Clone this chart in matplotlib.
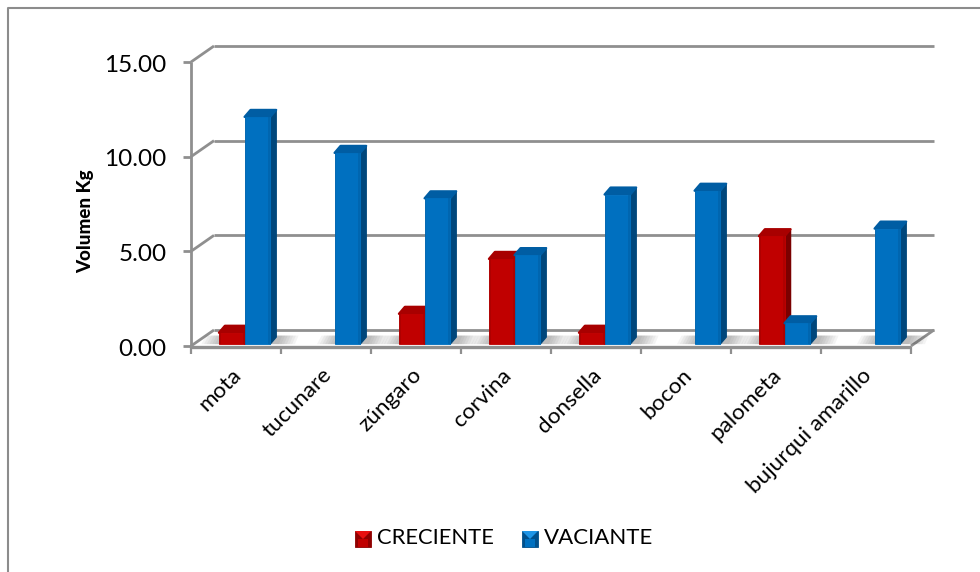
import matplotlib
matplotlib.use("Agg")
import matplotlib.pyplot as plt
from matplotlib.patches import Polygon, Rectangle

#---------------------------- datos ----------------------------#
especies = ["mota", "tucunare", "zúngaro", "corvina", "donsella", "bocon", "palometa", "bujurqui amarillo"]
creciente = [0.6, 0, 1.6, 4.5, 0.6, 0, 5.7, 0]
vaciante = [12.0, 10.1, 7.7, 4.7, 7.9, 8.1, 1.1, 6.1]
ticks_y = [0, 5, 10, 15]

W, H = 980, 572
plt.rcParams["font.family"] = ["Lato", "DejaVu Sans"]

fig = plt.figure(figsize=(W / 100, H / 100), dpi=100)
ax = fig.add_axes([191 / W, 1 - 346 / H, 720 / W, 284 / H])
ax.set_xlim(0, 8)
ax.set_ylim(0, 15)
ax.axis("off")

GRIS = "#8f8f8f"
DX, DY = 23 / 90, 16 / 18.93    # fondo del grafico 3D, en unidades de datos
dx_b, dy_b = 6 / 90, 7 / 18.93  # profundidad de cada barra
base_y = 0.1                    # las barras se apoyan un poco dentro del piso
ANCHO = 0.285


def linea(x, y, lw=2.0, z=1):
    ax.plot(x, y, color=GRIS, lw=lw, clip_on=False, zorder=z, solid_capstyle="butt")


def barra(x0, v, frente, lado, techo, borde, z):
    x1 = x0 + ANCHO
    y0 = base_y
    y1 = base_y + v
    # sombra sobre el piso
    for k in range(7):
        e = 0.015 + k * 0.03
        ax.add_patch(Polygon([(x0 - e, y0), (x1 + e + 0.08, y0),
                              (x1 + e + 0.12, y0 + 0.45), (x0 + 0.05 - e, y0 + 0.45)],
                             closed=True, fc="#444444", ec="none", alpha=0.06,
                             clip_on=False, zorder=2))
    ax.add_patch(Polygon([(x1, y0), (x1 + dx_b, y0 + dy_b), (x1 + dx_b, y1 + dy_b), (x1, y1)],
                         closed=True, fc=lado, ec=lado, lw=1.0, joinstyle="round",
                         clip_on=False, zorder=z))
    ax.add_patch(Polygon([(x0, y1), (x0 + dx_b, y1 + dy_b), (x1 + dx_b, y1 + dy_b), (x1, y1)],
                         closed=True, fc=techo, ec=techo, lw=1.6, joinstyle="round",
                         clip_on=False, zorder=z))
    ax.add_patch(Rectangle((x0, y0), ANCHO, v, fc=frente, ec=frente, lw=0.6,
                           clip_on=False, zorder=z + 0.5))
    # borde un poco mas oscuro en los lados del frente
    ax.add_patch(Rectangle((x0, y0), 0.02, v, fc=borde, ec="none", alpha=0.6,
                           clip_on=False, zorder=z + 0.6))
    ax.add_patch(Rectangle((x1 - 0.02, y0), 0.02, v, fc=borde, ec="none", alpha=0.6,
                           clip_on=False, zorder=z + 0.6))


# paredes y piso
for t in ticks_y:
    linea([0, DX], [t, t + DY])
    linea([DX, 8 + DX], [t + DY, t + DY])
    linea([-0.09, 0], [t, t])
linea([0, 0], [0, 15])
linea([8, 8 + DX], [0, DY])
linea([0, 8], [-0.05, -0.05], lw=2.4, z=6)
for i in range(9):
    linea([i, i], [-0.05, -0.42], lw=1.6)

# barras de atras hacia adelante, de izquierda a derecha
for i in range(len(especies)):
    if creciente[i] > 0:
        barra(i + 0.31, creciente[i], "#c00000", "#7a0000", "#a80000", "#a50000", 10 + i * 2)
    if vaciante[i] > 0:
        barra(i + 0.595, vaciante[i], "#0070c0", "#00477c", "#005da3", "#0060a6", 11 + i * 2)

# etiquetas
for t in ticks_y:
    ax.text(-0.27, t - 0.16, "%.2f" % t, ha="right", va="center", fontsize=17.5, color="black", clip_on=False)
for i, e in enumerate(especies):
    ax.text(i + 0.45, -1.0, e, rotation=45, rotation_mode="anchor", ha="right", va="top",
            fontsize=16.2, color="black", clip_on=False)
ax.text(-1.17, 6.6, "Volumen Kg", rotation=90, ha="center", va="center",
        fontsize=13.5, fontweight="black", color="black", clip_on=False)

# leyenda y marco en pixeles de la figura
fondo = fig.add_axes([0, 0, 1, 1], zorder=-1)
fondo.set_xlim(0, W)
fondo.set_ylim(H, 0)
fondo.axis("off")
fondo.plot([8, 8, W], [H, 8, 8], color="#8c8c8c", lw=1.5)


def marca(x, y, base, claro, oscuro):
    # cuadrito de la leyenda con bisel
    fondo.add_patch(Rectangle((x, y), 16, 16, fc=oscuro, ec=oscuro, lw=0.6, zorder=5))
    fondo.add_patch(Polygon([(x, y), (x + 16, y), (x + 8, y + 8)], closed=True, fc=claro, ec="none", zorder=6))
    fondo.add_patch(Polygon([(x + 3, y + 16), (x + 13, y + 16), (x + 13, y + 8), (x + 8, y + 8), (x + 3, y + 8)],
                            closed=True, fc=base, ec="none", zorder=6))


marca(355, 531, "#c00000", "#e81010", "#900000")
marca(522, 531, "#0070c0", "#1f95e6", "#00508c")
fondo.text(377, 538, "CRECIENTE", fontsize=15.8, va="center", ha="left")
fondo.text(544, 538, "VACIANTE", fontsize=16, va="center", ha="left")

fig.savefig("out.png", dpi=100)
